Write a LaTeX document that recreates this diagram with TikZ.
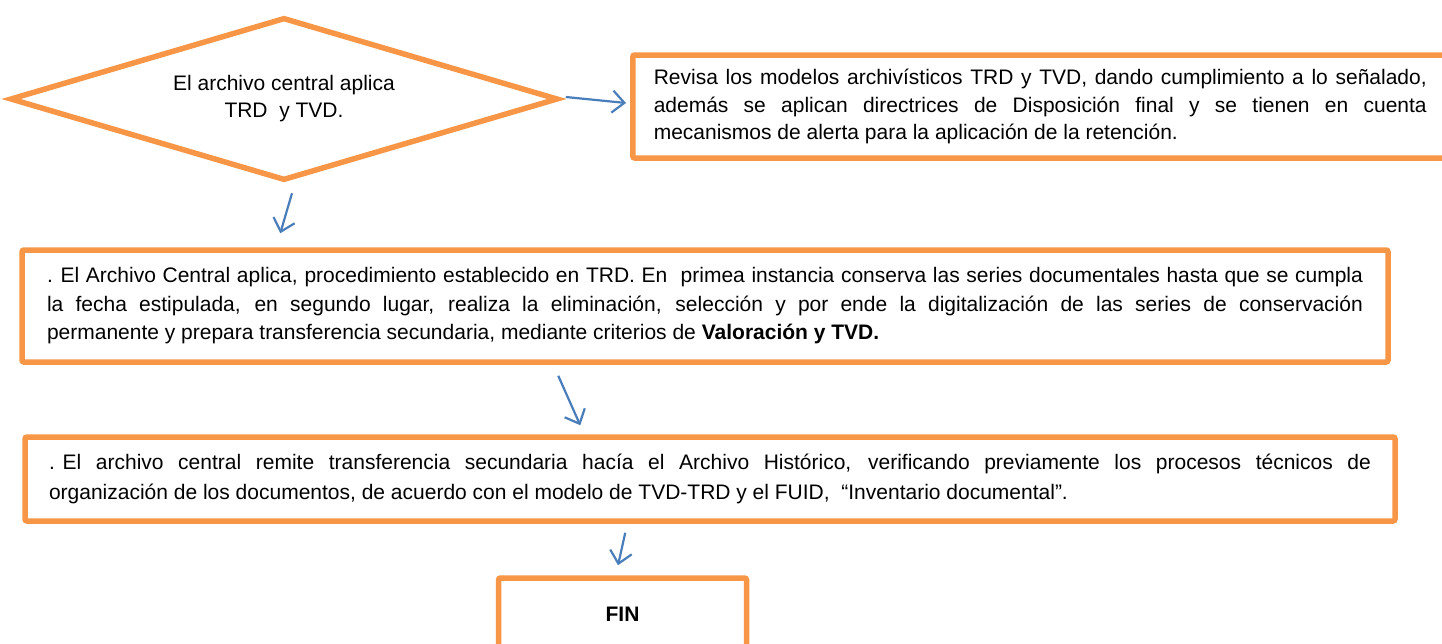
\documentclass[tikz,border=0pt]{standalone}
\usepackage{fontspec}
\setmainfont{Liberation Sans}
\usetikzlibrary{shapes.geometric,arrows.meta,calc}
\definecolor{orng}{HTML}{F79646}
\definecolor{blu}{HTML}{4A7EBB}
\newcommand{\jline}[2]{\makebox[#1][s]{#2}}
\newcommand{\lline}[2]{\makebox[#1][l]{#2}}
\begin{document}
\begin{tikzpicture}[x=1pt,y=-1pt,
  boxstyle/.style={draw=orng,line width=5.5pt,rounded corners=2pt,fill=white,align=left,inner ysep=0pt,
    font=\fontsize{21}{28.5}\selectfont},
  diastyle/.style={draw=orng,line width=5.5pt,diamond,aspect=3.36,minimum width=548pt,minimum height=163pt,
    inner sep=0pt,align=center,font=\fontsize{21}{27}\selectfont},
  arr/.style={draw=blu,line width=2.2pt,-{Straight Barb[length=12pt,width=22pt,line width=2.2pt]}}]
\useasboundingbox (0,0) rectangle (1442,643);

\node[diastyle] (d) at (284,99) {El archivo central aplica\\TRD~ y TVD.};

\node[boxstyle,inner xsep=21pt,minimum height=103pt,anchor=west,font=\fontsize{21}{27.5}\selectfont] (b1) at (630,106.5)
 {\jline{773pt}{Revisa los modelos archivísticos TRD y TVD, dando cumplimiento a lo señalado,}\\
  \jline{773pt}{además se aplican directrices de Disposición final y se tienen en cuenta}\\
  \lline{773pt}{mecanismos de alerta para la aplicación de la retención.}};

\node[boxstyle,inner xsep=25pt,minimum height=112pt] (b2) at (705,306)
 {\jline{1316pt}{\mbox{. El} Archivo Central aplica, procedimiento establecido en TRD. En~ primea instancia conserva las series documentales hasta que se cumpla}\\
  \jline{1316pt}{la fecha estipulada, en segundo lugar, realiza la eliminación, selección y por ende la digitalización de las series de conservación}\\
  \lline{1316pt}{permanente y prepara transferencia secundaria, mediante criterios de \textbf{Valoración y TVD.}}};

\node[boxstyle,inner xsep=24pt,minimum height=84pt,font=\fontsize{21}{30}\selectfont] (b3) at (710,479)
 {\jline{1322pt}{\mbox{. El} archivo central remite transferencia secundaria hacía el Archivo Histórico, verificando previamente los procesos técnicos de}\\
  \lline{1322pt}{organización de los documentos, de acuerdo con el modelo de TVD-TRD y el FUID,~ “Inventario documental”.}};

\node[boxstyle,minimum width=248pt,minimum height=72pt,align=center,font=\fontsize{21}{25}\selectfont\bfseries] (fin) at (622.5,614) {FIN};

\draw[arr] ($(d.east)+(5,-2)$) -- ($(b1.west)+(-4,-3.5)$);
\draw[arr] ($(d.south)+(8,10)$) -- ($(b2.north west)+(261,-14)$);
\draw[arr] ($(b2.south west)+(539,11)$) -- ($(b3.north west)+(558,-9)$);
\draw[arr] ($(b3.south west)+(603,9)$) -- ($(fin.north)+(-4.5,-10)$);
\end{tikzpicture}
\end{document}
